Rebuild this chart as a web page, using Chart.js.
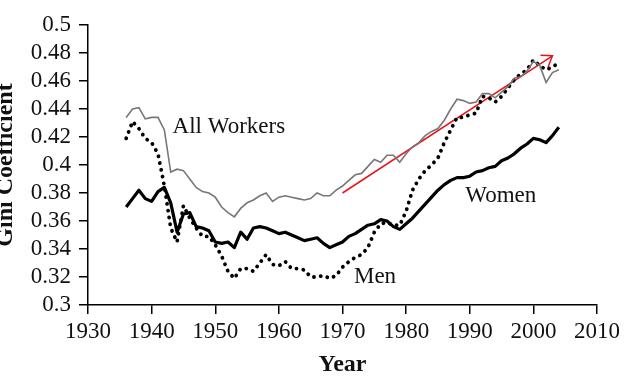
<!DOCTYPE html>
<html><head><meta charset="utf-8">
<script src="https://cdn.jsdelivr.net/npm/chart.js@4.4.0/dist/chart.umd.min.js"></script>
<style>html,body{margin:0;padding:0;background:#fff;overflow:hidden}#wrap{width:624px;height:383px;position:relative}</style>
</head><body><div id="wrap"><canvas id="c" width="624" height="383"></canvas></div>
<script>
const years = [1936,1937,1938,1939,1940,1941,1942,1943,1944,1945,1946,1947,1948,1949,1950,1951,1952,1953,1954,1955,1956,1957,1958,1959,1960,1961,1962,1963,1964,1965,1966,1967,1968,1969,1970,1971,1972,1973,1974,1975,1976,1977,1978,1979,1980,1981,1982,1983,1984,1985,1986,1987,1988,1989,1990,1991,1992,1993,1994,1995,1996,1997,1998,1999,2000,2001,2002,2003,2004];
const allWorkers = [0.434,0.440,0.441,0.433,0.434,0.434,0.425,0.395,0.397,0.396,0.390,0.384,0.381,0.380,0.377,0.370,0.366,0.363,0.369,0.373,0.375,0.378,0.380,0.374,0.377,0.378,0.377,0.376,0.375,0.376,0.380,0.378,0.378,0.382,0.385,0.389,0.393,0.394,0.399,0.404,0.402,0.407,0.407,0.402,0.408,0.413,0.416,0.421,0.424,0.426,0.432,0.440,0.447,0.446,0.444,0.445,0.451,0.451,0.448,0.452,0.456,0.462,0.463,0.467,0.474,0.471,0.459,0.466,0.468];
const women = [0.370,0.376,0.382,0.376,0.374,0.381,0.384,0.373,0.352,0.365,0.366,0.356,0.355,0.353,0.345,0.344,0.345,0.341,0.352,0.347,0.355,0.356,0.355,0.353,0.351,0.352,0.350,0.348,0.346,0.347,0.348,0.344,0.341,0.343,0.345,0.349,0.351,0.354,0.357,0.358,0.361,0.360,0.356,0.354,0.358,0.362,0.367,0.372,0.377,0.382,0.386,0.389,0.391,0.391,0.392,0.395,0.396,0.398,0.399,0.403,0.405,0.408,0.412,0.415,0.419,0.418,0.416,0.421,0.427];
const men = [0.419,0.431,0.426,0.419,0.416,0.408,0.385,0.355,0.345,0.371,0.362,0.355,0.349,0.349,0.343,0.335,0.324,0.319,0.326,0.326,0.324,0.330,0.336,0.329,0.328,0.331,0.326,0.326,0.325,0.320,0.320,0.321,0.319,0.321,0.327,0.331,0.334,0.336,0.341,0.352,0.358,0.359,0.357,0.357,0.367,0.382,0.390,0.396,0.400,0.405,0.416,0.425,0.434,0.434,0.436,0.437,0.449,0.448,0.445,0.449,0.455,0.461,0.465,0.468,0.475,0.471,0.468,0.470,0.473];
const trendYears = [1970, 2003];
const trendValues = [0.380, 0.478];
const xTickLabels = [1930,1940,1950,1960,1970,1980,1990,2000,2010];
const yTickLabels = [0.3,0.32,0.34,0.36,0.38,0.4,0.42,0.44,0.46,0.48,0.5];
const seriesNames = ['All Workers','Women','Men'];
const labelAnchorYears = [1943.3, 1989.3, 1971.8];
const labelAnchorValues = [0.4229, 0.3736, 0.3157];
const xAxisTitle = 'Year';
const yAxisTitle = 'Gini Coefficient';

const pts = (xs, ys) => xs.map((x, i) => ({x, y: ys[i]}));
const serif = '"Liberation Serif", "Times New Roman", serif';

const annot = {
  id: 'annot',
  afterDatasetsDraw(chart) {
    const {ctx, scales: {x, y}, chartArea} = chart;
    ctx.save();
    const meta = chart.getDatasetMeta(3);
    const p0 = meta.data[0], p1 = meta.data[1];
    const ang = Math.atan2(p1.y - p0.y, p1.x - p0.x);
    const L = 12, A = 0.62;
    ctx.strokeStyle = '#e8141b';
    ctx.lineWidth = 1.5;
    ctx.beginPath();
    ctx.moveTo(p1.x - L * Math.cos(ang - A), p1.y - L * Math.sin(ang - A));
    ctx.lineTo(p1.x, p1.y);
    ctx.lineTo(p1.x - L * Math.cos(ang + A), p1.y - L * Math.sin(ang + A));
    ctx.stroke();
    ctx.fillStyle = '#111';
    ctx.font = '23px ' + serif;
    ctx.textAlign = 'left';
    ctx.textBaseline = 'alphabetic';
    seriesNames.forEach((n, i) => {
      ctx.fillText(n, x.getPixelForValue(labelAnchorYears[i]), y.getPixelForValue(labelAnchorValues[i]));
    });
    ctx.font = 'bold 24px ' + serif;
    ctx.textAlign = 'center';
    ctx.fillText(xAxisTitle, (chartArea.left + chartArea.right) / 2, 371);
    ctx.translate(12, (chartArea.top + chartArea.bottom) / 2);
    ctx.rotate(-Math.PI / 2);
    ctx.fillText(yAxisTitle, 0, 0);
    ctx.restore();
  }
};

new Chart(document.getElementById('c'), {
  type: 'line',
  data: {
    datasets: [
      {label: seriesNames[0], data: pts(years, allWorkers), borderColor: '#777', borderWidth: 1.6, pointRadius: 0, tension: 0},
      {label: seriesNames[1], data: pts(years, women), borderColor: '#000', borderWidth: 3.2, pointRadius: 0, tension: 0, borderJoinStyle: 'round'},
      {label: seriesNames[2], data: pts(years, men), borderColor: '#000', borderWidth: 3.8, pointRadius: 0, tension: 0, borderDash: [0.1, 6.8], borderCapStyle: 'round'},
      {label: 'trend', data: pts(trendYears, trendValues), borderColor: '#e8141b', borderWidth: 1.5, pointRadius: 0, tension: 0}
    ]
  },
  options: {
    responsive: false,
    animation: false,
    devicePixelRatio: 1,
    layout: {padding: {top: 25, right: 25, left: 0, bottom: 0}},
    plugins: {legend: {display: false}, tooltip: {enabled: false}},
    scales: {
      x: {
        type: 'linear', min: 1930, max: 2010,
        afterBuildTicks: s => { s.ticks = xTickLabels.map(v => ({value: v})); },
        afterFit: s => { s.height = 78; },
        ticks: {font: {family: serif, size: 23}, color: '#111', padding: 4, maxRotation: 0, autoSkip: false, callback: v => String(v)},
        grid: {display: true, drawOnChartArea: false, drawTicks: true, tickLength: 9, color: '#000', lineWidth: 1.5},
        border: {display: true, color: '#000', width: 1.5}
      },
      y: {
        type: 'linear', min: 0.3, max: 0.5,
        afterBuildTicks: s => { s.ticks = yTickLabels.map(v => ({value: v})); },
        afterFit: s => { s.width = 88; },
        ticks: {font: {family: serif, size: 23}, color: '#111', padding: 8, autoSkip: false, callback: v => String(parseFloat(v.toFixed(2)))},
        grid: {display: true, drawOnChartArea: false, drawTicks: true, tickLength: 9, color: '#000', lineWidth: 1.5},
        border: {display: true, color: '#000', width: 1.5}
      }
    }
  },
  plugins: [annot]
});
</script>
</body></html>
